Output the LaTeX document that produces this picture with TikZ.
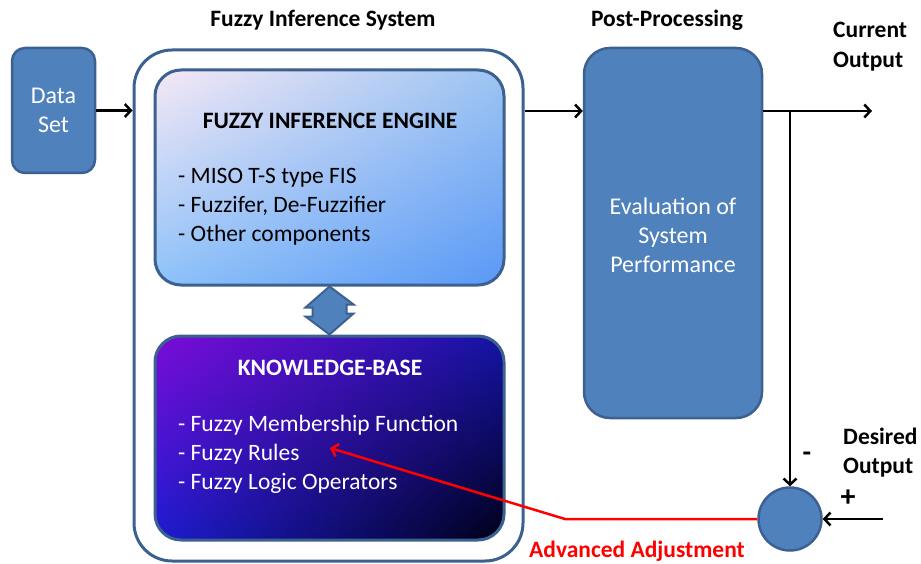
\documentclass[tikz,border=0pt]{standalone}
\usepackage{fontspec}
\setmainfont{Carlito}
\usetikzlibrary{arrows.meta,calc,shadings}
\definecolor{boxblue}{HTML}{4F81BD}
\definecolor{boxedge}{HTML}{3C6190}
\definecolor{adjred}{HTML}{FF0000}
\definecolor{engUL}{HTML}{F6E8F6}
\definecolor{engUR}{HTML}{9CC4F2}
\definecolor{engLL}{HTML}{8CC2F8}
\definecolor{engLR}{HTML}{5A98F6}
\definecolor{kbUL}{HTML}{7A0CD8}
\definecolor{kbUR}{HTML}{1414A4}
\definecolor{kbLL}{HTML}{1C1CD0}
\definecolor{kbLR}{HTML}{000018}
\tikzset{
  blockbox/.style={draw=boxedge, line width=2.5pt, fill=boxblue, rounded corners=#1},
  blockbox/.default=14pt,
  conn/.style={line width=2.5pt, -{Straight Barb[length=6pt,width=13pt,line width=2.5pt]}},
  redconn/.style={conn, draw=adjred, -{Straight Barb[length=6pt,width=13pt,line width=2.5pt,color=adjred]}},
  heading/.style={font=\bfseries\fontsize{23.5}{26}\selectfont, inner sep=0pt},
  bodytext/.style={font=\fontsize{23.5}{29}\selectfont, align=left, inner sep=0pt},
  whitetext/.style={font=\fontsize{24}{29}\selectfont, align=center, text=white, inner sep=0pt},
}
\begin{document}
\begin{tikzpicture}[x=1pt,y=-1pt]
\useasboundingbox (0,0) rectangle (921,564);

% main blocks
\node[blockbox=13pt, minimum width=83pt, minimum height=125pt] (data) at (53.5,110.5) {};
\node[whitetext] (datatxt) at (data.center) {Data\\Set};

\node[draw=boxedge, line width=3pt, rounded corners=38pt, fill=white,
      minimum width=389pt, minimum height=511pt] (fis) at (328.5,305.5) {};

\node[draw=boxedge, line width=3pt, rounded corners=26pt,
      upper left=engUL, upper right=engUR, lower left=engLL, lower right=engLR,
      minimum width=349pt, minimum height=215pt] (engine) at (329.5,177.5) {};

\node[draw=boxedge, line width=3pt, rounded corners=26pt,
      upper left=kbUL, upper right=kbUR, lower left=kbLL, lower right=kbLR,
      minimum width=349pt, minimum height=204pt] (kb) at (329.5,438) {};

\node[blockbox=26pt, minimum width=178pt, minimum height=370pt] (pp) at (673,233) {};

\node[draw=boxedge, line width=2.5pt, fill=boxblue, circle, minimum size=63pt] (sum) at (790,519) {};

% texts inside blocks
\node[heading] (enginetitle) at (330,121) {FUZZY INFERENCE ENGINE};
\node[bodytext, anchor=west] (engineitems) at (178,207) {- MISO T-S type FIS\\- Fuzzifer, De-Fuzzifier\\- Other components};

\node[heading, text=white] (kbtitle) at (330,368) {KNOWLEDGE-BASE};
\node[bodytext, text=white, anchor=west] (kbitems) at (178,454) {- Fuzzy Membership Function\\- Fuzzy Rules\\- Fuzzy Logic Operators};

\node[whitetext] (pptxt) at (673,235) {Evaluation of\\System\\Performance};

% captions
\node[heading] (fiscap) at (323,20) {Fuzzy Inference System};
\node[heading] (ppcap) at (667,20) {Post-Processing};
\node[heading, align=left, anchor=west, font=\bfseries\fontsize{23.5}{30}\selectfont] (curcap) at (833,47) {Current\\Output};
\node[heading, align=left, anchor=west, font=\bfseries\fontsize{23.5}{29}\selectfont] (descap) at (843,452.5) {Desired\\Output};
\node[heading, font=\bfseries\fontsize{28}{28}\selectfont] (minus) at (807,457) {-};
\node[heading, font=\bfseries\fontsize{30}{30}\selectfont] (plus) at (848,498) {+};
\node[heading, text=adjred] (adjcap) at (637,551) {Advanced Adjustment};

% double arrow between engine and knowledge base
\draw[draw=boxedge, line width=2pt, fill=boxblue, line join=miter]
  (engine.south) -- ++(-24,21) -- ++(7,0) -- ++(0,9) -- ++(-7,0)
  -- (kb.north) -- ++(24,-21) -- ++(-7,0) -- ++(0,-9) -- ++(7,0) -- cycle;

% signal flow
\coordinate (out) at (872,111);
\coordinate (din) at (883,519);
\coordinate (bend) at (565,519);
\coordinate (rules) at (330,448);

\draw[conn] (data.east) -- (data.east -| fis.west);
\draw[conn] (fis.east |- out) -- (pp.west |- out);
\draw[conn] (pp.east |- out) -- (out);
\draw[conn] (sum.north |- out) -- (sum.north);
\draw[conn] (din) -- (sum.east);
\draw[redconn] (sum.west) -- (bend) -- (rules);
\end{tikzpicture}
\end{document}
